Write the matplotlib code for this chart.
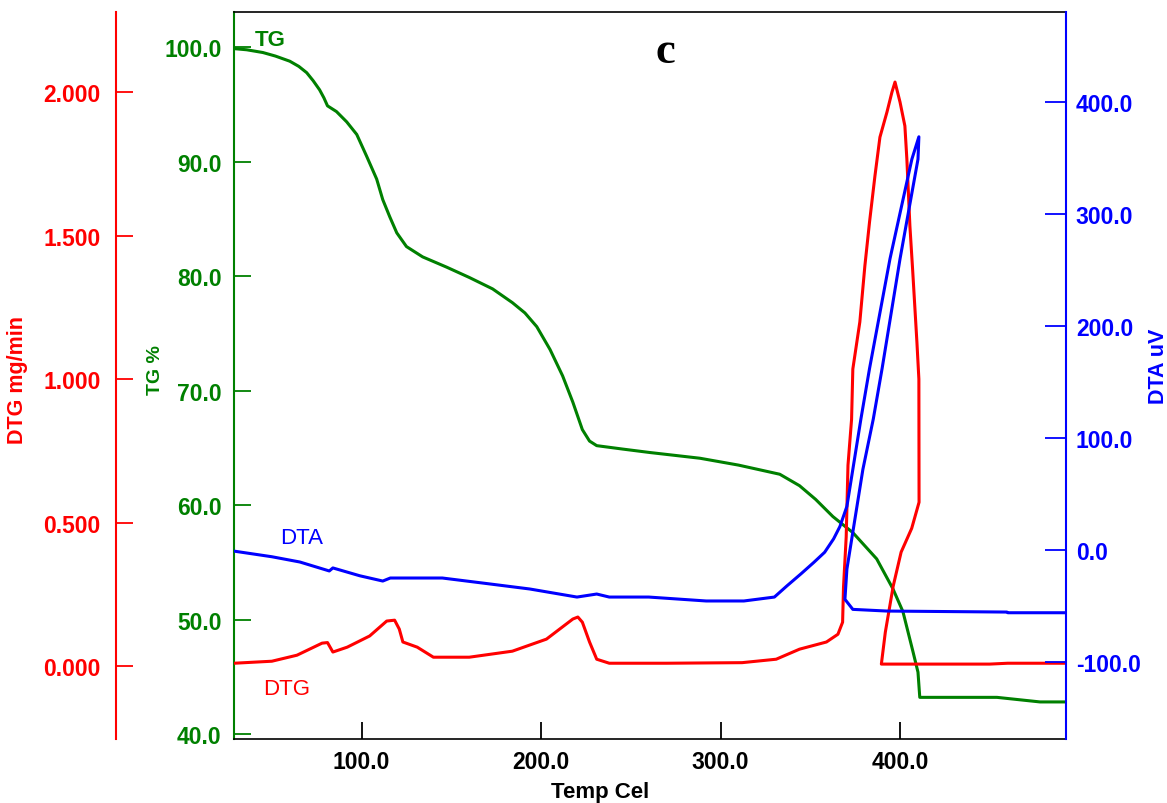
import matplotlib
matplotlib.use("Agg")
import matplotlib.pyplot as plt
from matplotlib.ticker import FixedLocator, FormatStrFormatter

# ---------------- data ----------------
tg_temp = [29, 36, 45, 52, 60, 65, 69.4, 73, 76.6, 79, 81, 84, 86, 91.7, 97.3, 102.8, 108.4,
           111.8, 115.7, 119.6, 125, 134, 147.4, 160, 173, 184, 191, 197.6, 205, 212, 217.7,
           223, 227, 231, 245.5, 260.6, 288.5, 310, 333, 344, 353, 362.6, 373.7, 387, 396,
           401.6, 407.2, 410, 411, 454, 478, 492.5]
tg_val = [99.9, 99.8, 99.56, 99.25, 98.8, 98.35, 97.8, 97.1, 96.3, 95.6, 94.9, 94.6, 94.4,
          93.5, 92.4, 90.5, 88.5, 86.7, 85.2, 83.8, 82.6, 81.7, 80.8, 79.9, 78.9, 77.7, 76.8,
          75.6, 73.6, 71.3, 69.0, 66.6, 65.6, 65.2, 64.9, 64.6, 64.1, 63.5, 62.7, 61.7, 60.5,
          59.0, 57.6, 55.3, 52.7, 50.7, 47.2, 45.4, 43.2, 43.2, 42.8, 42.8]

dtg_temp = [29, 50, 64, 78, 81, 84, 92, 104.5, 114, 118.4, 121, 123, 131, 140, 160, 184, 203,
            217.7, 220.5, 223, 227, 231, 238, 270, 312, 331, 344, 359, 365.4, 368, 368.5,
            370, 371, 373, 373.7, 377.6, 380.4, 383, 386, 388.8, 392.7, 395.5, 397.2, 400,
            402.7, 403.8, 405.5, 407, 409.4, 410.5, 410.6, 406.5, 400.6, 396.2, 391.8,
            389.6, 450, 460, 492.5]
dtg_val = [0.010, 0.017, 0.038, 0.080, 0.082, 0.049, 0.066, 0.105, 0.157, 0.160, 0.129, 0.084,
           0.066, 0.031, 0.031, 0.052, 0.094, 0.164, 0.171, 0.153, 0.084, 0.024, 0.010, 0.010,
           0.012, 0.024, 0.059, 0.084, 0.111, 0.153, 0.275, 0.45, 0.70, 0.86, 1.035, 1.199,
           1.394, 1.547, 1.707, 1.843, 1.93, 2.0, 2.035, 1.965, 1.882, 1.767, 1.533, 1.383,
           1.129, 1.0, 0.571, 0.48, 0.397, 0.279, 0.118, 0.007, 0.007, 0.010, 0.010]

dta_temp = [29, 50, 65.6, 82, 84, 99, 111.8, 116, 123, 145, 167.5, 193.7, 220, 231, 238, 260,
            292, 313, 330, 337, 345, 352, 358, 363, 366.5, 370.4, 378.2, 383, 394.4, 406.6,
            410.5, 410, 400, 390, 385.1, 379.3, 370.4, 369.3, 373.7, 392.7, 459.6, 460, 492.5]
dta_val = [-1, -6, -10.7, -18.7, -16, -23, -27.7, -25, -25, -25, -29.5, -34.8, -42, -39.3, -42,
           -42, -45.5, -45.5, -42, -32, -21, -11, -2, 10, 21, 39, 117, 162, 260, 349, 369,
           349, 260, 162, 117, 72, -17, -44, -53, -54.5, -55.4, -56, -56]

temp_ticks = [100, 200, 300, 400]
tg_ticks = [40, 50, 60, 70, 80, 90, 100]
dtg_ticks = [0.0, 0.5, 1.0, 1.5, 2.0]
dta_ticks = [-100, 0, 100, 200, 300, 400]

GREEN = "#008000"
RED = "#ff0000"
BLUE = "#0000ff"
BOLD = dict(family="Liberation Sans", weight="bold")

fig = plt.figure(figsize=(11.67, 8.04), dpi=100)
ax = fig.add_axes([0.2005, 0.0796, 0.7130, 0.9042])
ax_dtg = ax.twinx()
ax_dta = ax.twinx()

lw = 2.2
ax.plot(tg_temp, tg_val, color=GREEN, lw=lw, zorder=3)
ax_dtg.plot(dtg_temp, dtg_val, color=RED, lw=lw)
ax_dta.plot(dta_temp, dta_val, color=BLUE, lw=lw)

ax.set_xlim(28.9, 492.5)
ax.set_ylim(39.56, 103.1)
ax_dtg.set_ylim(-0.254, 2.279)
ax_dta.set_ylim(-168.75, 480.4)

# host (TG) axis
for s in ["top", "bottom"]:
    ax.spines[s].set_color("black")
    ax.spines[s].set_linewidth(1.2)
ax.spines["left"].set_color(GREEN)
ax.spines["left"].set_linewidth(1.5)
ax.spines["right"].set_visible(False)
ax.xaxis.set_major_locator(FixedLocator(temp_ticks))
ax.xaxis.set_major_formatter(FormatStrFormatter("%.1f"))
ax.yaxis.set_major_locator(FixedLocator(tg_ticks))
ax.yaxis.set_major_formatter(FormatStrFormatter("%.1f"))
ax.tick_params(axis="x", direction="in", length=12, width=1.3, color="black", pad=8)
ax.tick_params(axis="y", direction="in", length=12, width=1.3, color=GREEN,
               labelcolor=GREEN, pad=9)
for lab in ax.get_xticklabels():
    lab.set(**BOLD, size=16.5, color="black")
for lab in ax.get_yticklabels():
    lab.set(**BOLD, size=16.5)

# DTG axis (offset left)
for s in ["top", "bottom", "right"]:
    ax_dtg.spines[s].set_visible(False)
ax_dtg.spines["left"].set_visible(True)
ax_dtg.spines["left"].set_position(("axes", -0.1418))
ax_dtg.spines["left"].set_color(RED)
ax_dtg.spines["left"].set_linewidth(1.5)
ax_dtg.yaxis.set_ticks_position("left")
ax_dtg.yaxis.set_label_position("left")
ax_dtg.yaxis.set_major_locator(FixedLocator(dtg_ticks))
ax_dtg.yaxis.set_major_formatter(FormatStrFormatter("%.3f"))
ax_dtg.tick_params(axis="y", direction="in", length=12, width=1.3, color=RED,
                   labelcolor=RED, pad=11)
for lab in ax_dtg.get_yticklabels():
    lab.set(**BOLD, size=16.5)

# DTA axis (right)
for s in ["top", "bottom", "left"]:
    ax_dta.spines[s].set_visible(False)
ax_dta.spines["right"].set_color(BLUE)
ax_dta.spines["right"].set_linewidth(1.5)
ax_dta.yaxis.set_major_locator(FixedLocator(dta_ticks))
ax_dta.yaxis.set_major_formatter(FormatStrFormatter("%.1f"))
ax_dta.tick_params(axis="y", direction="in", length=15, width=1.3, color=BLUE,
                   labelcolor=BLUE, pad=7)
for lab in ax_dta.get_yticklabels():
    lab.set(**BOLD, size=16.5)

# axis titles
fig.text(18 / 1167, 1 - 380 / 804, "DTG mg/min", color=RED, rotation=90,
         ha="center", va="center", size=15.5, **BOLD)
fig.text(155 / 1167, 1 - 370 / 804, "TG %", color=GREEN, rotation=90,
         ha="center", va="center", size=14, **BOLD)
fig.text(1158 / 1167, 1 - 366 / 804, "DTA uV", color=BLUE, rotation=90,
         ha="center", va="center", size=15.5, **BOLD)
fig.text(600 / 1167, 1 - 793 / 804, "Temp Cel", color="black",
         ha="center", va="center", size=16, **BOLD)

# curve labels and panel letter
ax.text(49, 100.7, "TG", color=GREEN, ha="center", va="center", size=16,
        family="Liberation Sans", weight="bold")
ax.text(66.5, 57.2, "DTA", color=BLUE, ha="center", va="center", size=16,
        family="Liberation Sans")
ax.text(58, 44.0, "DTG", color=RED, ha="center", va="center", size=16,
        family="Liberation Sans")
ax.text(269, 99.7, "c", color="black", ha="center", va="center", size=32,
        family="Liberation Serif", weight="bold")

fig.savefig("out.png", dpi=100)
